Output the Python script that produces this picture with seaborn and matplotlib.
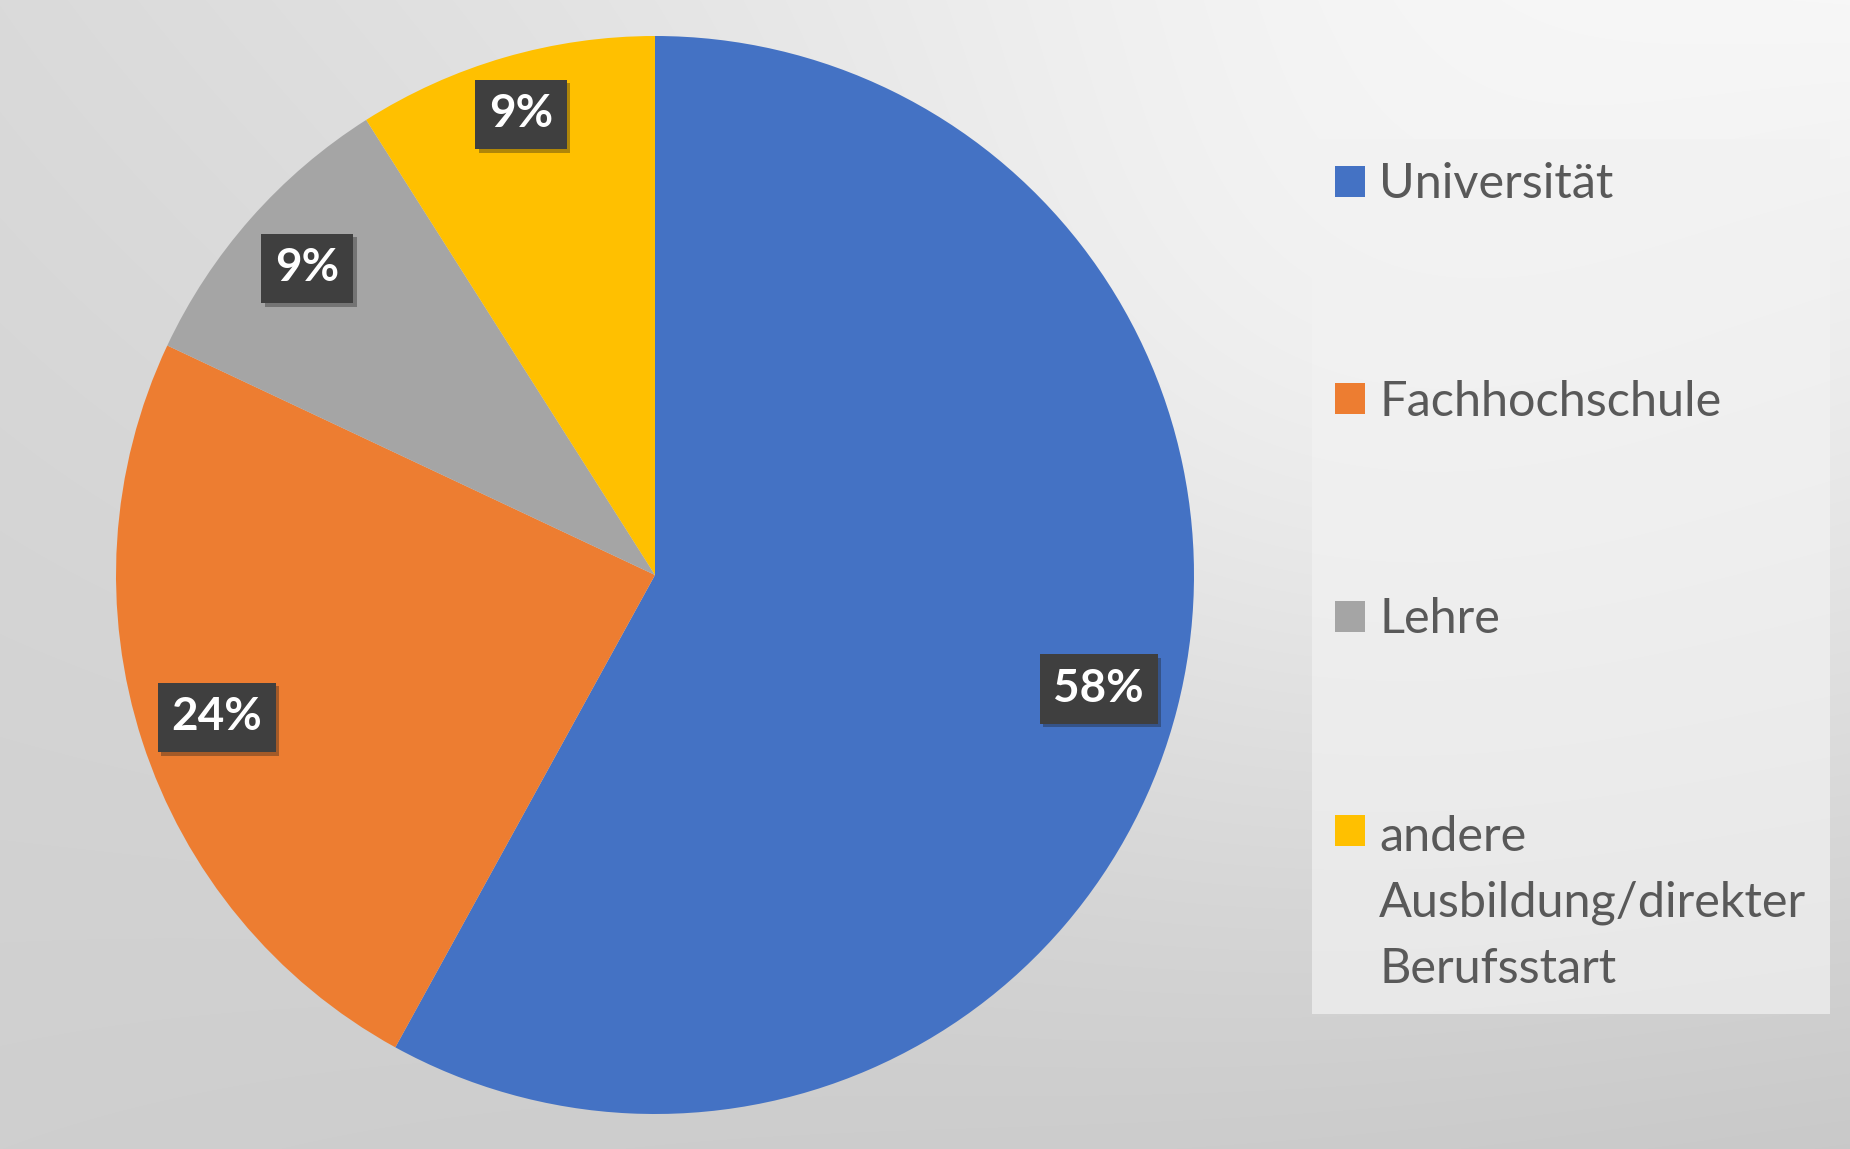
import numpy as np
import matplotlib
matplotlib.use("Agg")
import matplotlib.pyplot as plt
import matplotlib.patheffects as pe
import seaborn as sns

# ---- data ----
categories = ["Universität", "Fachhochschule", "Lehre",
              "andere\nAusbildung/direkter\nBerufsstart"]
shares = [58, 24, 9, 9]
colors = ["#4472C4", "#ED7D31", "#A5A5A5", "#FFC000"]
# radial position of each value label (fraction of radius)
label_dist = [0.85, 0.855, 0.86, 0.89]

sns.set_theme(style="white")
plt.rcParams['font.family'] = ['Lato', 'DejaVu Sans']

W, H, DPI = 1850, 1149, 100
fig = plt.figure(figsize=(W / DPI, H / DPI), dpi=DPI)

# background gradient (bilinear between corner greys plus a soft highlight)
bg = fig.add_axes([0, 0, 1, 1], zorder=-10)
yy, xx = np.mgrid[0:H, 0:W]
u = xx / (W - 1)
v = yy / (H - 1)
tl, tr, bl, br = 218, 243, 207, 200
g = (tl * (1 - u) * (1 - v) + tr * u * (1 - v) + bl * (1 - u) * v + br * u * v)
g = g + 14 * np.exp(-(((xx - 1350) / 600) ** 2 + ((yy - 380) / 520) ** 2))
g = np.clip(g / 255.0, 0, 1)
img = np.dstack([g, g, g])
bg.imshow(img, aspect='auto', extent=[0, 1, 0, 1], origin='upper')
bg.set_axis_off()

# pie
cxp, cyp, r = 655, 575, 539
ax = fig.add_axes([(cxp - r) / W, (H - cyp - r) / H, 2 * r / W, 2 * r / H])
wedges, texts, autotexts = ax.pie(
    shares, colors=colors, startangle=90, counterclock=False,
    autopct=lambda p: f"{p:.0f}%", pctdistance=0.855, radius=1.0,
    wedgeprops=dict(linewidth=0),
    textprops=dict(color="white", fontsize=33, fontweight="bold"))
for w, t, dist in zip(wedges, autotexts, label_dist):
    mid = np.deg2rad((w.theta1 + w.theta2) / 2)
    t.set_position((dist * np.cos(mid), dist * np.sin(mid)))
    t.set_bbox(dict(boxstyle="square,pad=0.3", facecolor="#3f3f3f",
                    edgecolor="none"))
    t.get_bbox_patch().set_path_effects(
        [pe.SimplePatchShadow(offset=(2.5, -2.5), shadow_rgbFace="#1a1a1a", alpha=0.35),
         pe.Normal()])
ax.set_xlim(-1, 1)
ax.set_ylim(-1, 1)
ax.set_aspect('equal')
ax.set_axis_off()

# legend
leg = fig.legend(wedges, categories, loc="upper left",
                 bbox_to_anchor=(1312 / W, 1 - 139 / H),
                 fontsize=35, frameon=True, fancybox=False,
                 labelspacing=3.57, borderpad=0.48, borderaxespad=0,
                 handlelength=0.6, handleheight=0.6, handletextpad=0.3,
                 labelcolor="#595959")
frame = leg.get_frame()
frame.set_facecolor("#f2f2f2")
frame.set_alpha(0.7)
frame.set_edgecolor("none")
for t in leg.get_texts():
    t.set_linespacing(1.6)
# align the marker of the multi-line entry with its first line
try:
    col = leg._legend_handle_box.get_children()[0]
    col.get_children()[-1].align = "top"
except Exception:
    pass

fig.savefig("out.png", dpi=DPI)
